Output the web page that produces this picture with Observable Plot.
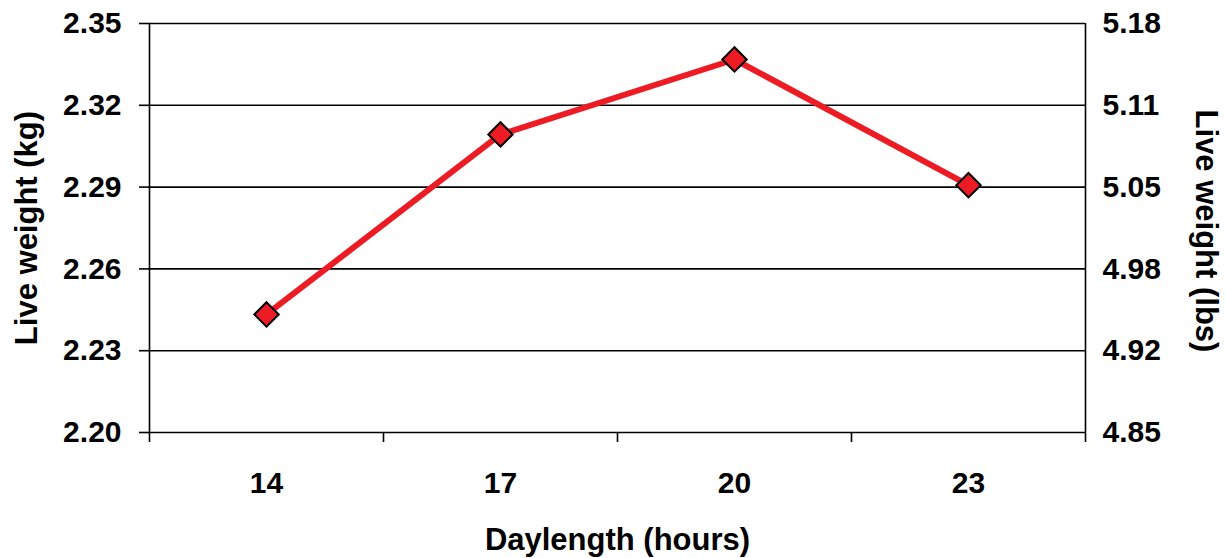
<!DOCTYPE html>
<html>
<head>
<meta charset="utf-8">
<script src="https://cdn.jsdelivr.net/npm/d3@7"></script>
<script src="https://cdn.jsdelivr.net/npm/@observablehq/plot@0.6"></script>
<style>
  html, body { margin: 0; padding: 0; background: #fff; }
  #chart svg { display: block; }
</style>
</head>
<body>
<div id="chart"></div>
<script>
// Daylength treatments (hours) and mean live weight (kg)
const daylengths = [14, 17, 20, 23];
const liveWeightKg = [2.2433, 2.3093, 2.3368, 2.2907];

// Left axis ticks (kg) and their equivalents in lbs for the right axis
const kgTicks = [2.20, 2.23, 2.26, 2.29, 2.32, 2.35];
const lbsTickLabels = ["4.85", "4.92", "4.98", "5.05", "5.11", "5.18"];

// Category boundaries for the x-axis tick marks
const xBoundaries = [12.5, 15.5, 18.5, 21.5, 24.5];

const xTitle = "Daylength (hours)";
const yTitleLeft = "Live weight (kg)";
const yTitleRight = "Live weight (lbs)";

const data = daylengths.map((h, i) => ({hours: h, kg: liveWeightKg[i]}));

const red = "#ed1c24";
const tickFont = 30;
const titleFont = 31;

const chart = Plot.plot({
  width: 1226,
  height: 558,
  marginLeft: 149,
  marginRight: 141,
  marginTop: 23,
  marginBottom: 126,
  style: {
    fontFamily: "'Liberation Sans', Arial, sans-serif",
    fontWeight: "bold",
    color: "black",
    background: "white"
  },
  x: {domain: [12.5, 24.5]},
  y: {domain: [2.20, 2.35]},
  marks: [
    // horizontal gridlines
    Plot.gridY(kgTicks, {stroke: "black", strokeOpacity: 1, strokeWidth: 1.6}),
    // left and right axis lines
    Plot.ruleX([12.5, 24.5], {stroke: "black", strokeWidth: 1.6}),
    // left axis (kg)
    Plot.axisY(kgTicks, {
      anchor: "left",
      tickSize: 10,
      tickPadding: 18,
      strokeWidth: 1.6,
      fontSize: tickFont,
      tickFormat: d => d.toFixed(2),
      label: null
    }),
    // right axis (lbs)
    Plot.axisY(kgTicks, {
      anchor: "right",
      tickSize: 0,
      tickPadding: 17,
      fontSize: tickFont,
      tickFormat: (d, i) => lbsTickLabels[i],
      label: null
    }),
    // x tick marks between categories
    Plot.axisX(xBoundaries, {
      anchor: "bottom",
      tickSize: 10,
      strokeWidth: 1.6,
      tickFormat: () => "",
      label: null
    }),
    // x category labels
    Plot.axisX(daylengths, {
      anchor: "bottom",
      tickSize: 0,
      tickPadding: 39,
      fontSize: tickFont,
      tickFormat: d => String(d),
      label: null
    }),
    // axis titles
    Plot.text([xTitle], {
      frameAnchor: "bottom",
      dy: 108,
      lineAnchor: "middle",
      textAnchor: "middle",
      fontSize: titleFont,
      fontWeight: "bold"
    }),
    Plot.text([yTitleLeft], {
      frameAnchor: "left",
      dx: -122,
      rotate: -90,
      lineAnchor: "middle",
      textAnchor: "middle",
      fontSize: titleFont,
      fontWeight: "bold"
    }),
    Plot.text([yTitleRight], {
      frameAnchor: "right",
      dx: 120,
      dy: 3,
      rotate: 90,
      lineAnchor: "middle",
      textAnchor: "middle",
      fontSize: titleFont,
      fontWeight: "bold"
    }),
    // data series
    Plot.line(data, {x: "hours", y: "kg", stroke: red, strokeWidth: 6}),
    Plot.dot(data, {
      x: "hours",
      y: "kg",
      symbol: "diamond2",
      r: 11,
      fill: red,
      stroke: "black",
      strokeWidth: 2
    })
  ]
});

document.getElementById("chart").append(chart);
</script>
</body>
</html>
